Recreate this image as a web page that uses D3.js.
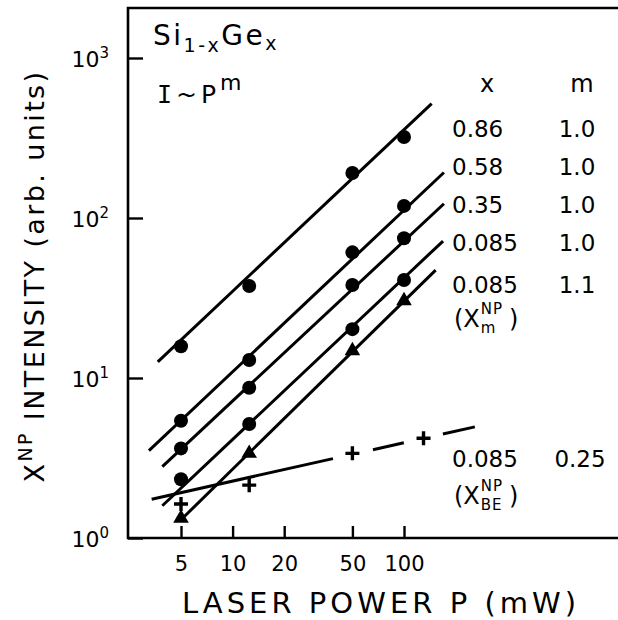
<!DOCTYPE html>
<html><head><meta charset="utf-8">
<script src="https://cdn.jsdelivr.net/npm/d3@7"></script>
<style>
body{margin:0;background:#fff}
svg{display:block}
text{font-family:"DejaVu Sans",sans-serif;fill:#000}
</style></head>
<body><svg id="c" width="618" height="620"></svg>
<script>
// ---------- data ----------
const powers = [5, 12.5, 50, 100];               // mW
const vals086  = [15.8, 37.6, 191, 321];
const vals058  = [5.41, 12.95, 61.0, 119];
const vals035  = [3.63, 8.7, 38.1, 74.7];
const vals0085 = [2.33, 5.16, 20.2, 41.0];
const valsTri  = [1.33, 3.38, 14.8, 30.4];        // x=0.085, X^NP_m
const powersBE = [5, 12.5, 50, 130];
const valsBE   = [1.63, 2.14, 3.38, 4.2];         // x=0.085, X^NP_BE

const legendX = ["0.86", "0.58", "0.35", "0.085", "0.085"];
const legendM = ["1.0", "1.0", "1.0", "1.0", "1.1"];
const legendXBE = "0.085", legendMBE = "0.25";

// fitted power-law lines: I at P=5 mW, exponent, P range drawn
const fitI5    = [17.3, 5.43, 3.59, 2.05, 1.30];
const fitSlope = [1.01, 1.01, 1.0, 1.01, 1.05];
const fitFrom  = [3.66, 3.25, 3.89, 3.89, 5.0];
const fitTo    = [145, 171, 171, 169, 153];
const beI5 = 1.92, beSlope = 0.24;
const beSegFrom = [3.37, 65.9, 168.6];
const beSegTo   = [38.5, 99.8, 259];

const xTickVals = [5, 10, 20, 50, 100];
const yTickVals = [1, 10, 100, 1000];

// ---------- layout ----------
const svg = d3.select("#c");
const L = 128, T = 8, R = 620, B = 538;
const x = d3.scaleLog().domain([5, 100]).range([181, 404]);
const y = d3.scaleLog().domain([1, 1000]).range([B, 58]);

// frame
svg.append("path").attr("d", `M${R},${T}H${L}V${B}H${R}`)
  .attr("fill", "none").attr("stroke", "#000").attr("stroke-width", 2.6);

// x axis
const gx = svg.append("g").attr("transform", `translate(0,${B})`)
  .call(d3.axisBottom(x).tickValues(xTickVals).tickSize(-12).tickPadding(18).tickFormat(d3.format("d")));
gx.select(".domain").remove();
gx.selectAll("line").attr("stroke", "#000").attr("stroke-width", 2.4);
gx.selectAll("text").attr("font-size", 21).attr("font-family", "DejaVu Sans").attr("fill", "#000");

// y axis
const gy = svg.append("g").attr("transform", `translate(${L},0)`)
  .call(d3.axisLeft(y).tickValues(yTickVals).tickSize(-15).tickPadding(19).tickFormat(() => ""));
gy.select(".domain").remove();
gy.selectAll("line").attr("stroke", "#000").attr("stroke-width", 2.4);
gy.selectAll("text").attr("font-family", "DejaVu Sans").attr("fill", "#000").attr("dy", null)
  .each(function(d) {
    const t = d3.select(this);
    t.append("tspan").attr("font-size", 22).attr("dy", 8).text("10");
    t.append("tspan").attr("font-size", 15).attr("dy", -9).text(Math.round(Math.log10(d)));
  });

// fitted lines
const line = d3.line().x(d => x(d[0])).y(d => y(d[1]));
fitI5.forEach((i5, k) => {
  const f = p => i5 * Math.pow(p / 5, fitSlope[k]);
  svg.append("path").attr("d", line([[fitFrom[k], f(fitFrom[k])], [fitTo[k], f(fitTo[k])]]))
    .attr("stroke", "#000").attr("stroke-width", 3).attr("fill", "none");
});
const fbe = p => beI5 * Math.pow(p / 5, beSlope);
beSegFrom.forEach((p0, k) => {
  svg.append("path").attr("d", line([[p0, fbe(p0)], [beSegTo[k], fbe(beSegTo[k])]]))
    .attr("stroke", "#000").attr("stroke-width", 3).attr("fill", "none");
});

// markers
[vals086, vals058, vals035, vals0085].forEach(vals => {
  svg.append("g").selectAll("circle").data(vals).join("circle")
    .attr("cx", (d, i) => x(powers[i])).attr("cy", d => y(d)).attr("r", 7).attr("fill", "#000");
});
svg.append("g").selectAll("path").data(valsTri).join("path")
  .attr("transform", (d, i) => `translate(${x(powers[i])},${y(d)})`)
  .attr("d", d3.symbol(d3.symbolTriangle, 105)).attr("fill", "#000");
svg.append("g").selectAll("path").data(valsBE).join("path")
  .attr("d", (d, i) => { const cx = x(powersBE[i]), cy = y(d); return `M${cx-7},${cy}h14M${cx},${cy-7}v14`; })
  .attr("stroke", "#000").attr("stroke-width", 3.4).attr("fill", "none");

// legend table
const colX = 452, colM = 577;
svg.append("text").attr("x", 487).attr("y", 92).attr("text-anchor", "middle").attr("font-size", 24).text("x");
svg.append("text").attr("x", 582).attr("y", 92).attr("text-anchor", "middle").attr("font-size", 24).text("m");
const rowY = [137, 175, 213, 251, 293];
legendX.forEach((v, k) => {
  svg.append("text").attr("x", colX).attr("y", rowY[k]).attr("font-size", 23).text(v);
  svg.append("text").attr("x", colM).attr("y", rowY[k]).attr("text-anchor", "middle").attr("font-size", 23).text(legendM[k]);
});
svg.append("text").attr("x", colX).attr("y", 467).attr("font-size", 23).text(legendXBE);
svg.append("text").attr("x", colM + 3).attr("y", 467).attr("text-anchor", "middle").attr("font-size", 23).text(legendMBE);

// (X^NP_sub) as one text element with stacked tspans
function labelX(x0, b, sub) {
  const probe = svg.append("text").attr("font-size", 24).text("(X");
  const w = probe.node().getComputedTextLength();
  probe.remove();
  const p2 = svg.append("text").attr("font-size", 15).attr("letter-spacing", 1);
  const ww = Math.max(p2.text("NP").node().getComputedTextLength(), p2.text(sub).node().getComputedTextLength());
  p2.remove();
  const t = svg.append("text").attr("x", x0).attr("y", b).attr("font-size", 24);
  t.append("tspan").text("(X");
  t.append("tspan").attr("x", x0 + w + 1).attr("y", b - 13).attr("font-size", 15).attr("letter-spacing", 1).text("NP");
  t.append("tspan").attr("x", x0 + w + 1).attr("y", b + 6).attr("font-size", 15).attr("letter-spacing", 1).text(sub);
  t.append("tspan").attr("x", x0 + w + ww + 7).attr("y", b).text(")");
}
labelX(454, 327, "m");
labelX(454, 504, "BE");

// composition labels
const t1 = svg.append("text").attr("x", 153).attr("y", 45).attr("font-size", 28).attr("letter-spacing", 2.5);
t1.append("tspan").text("Si");
t1.append("tspan").attr("font-size", 19).attr("dy", 7).text("1-x");
t1.append("tspan").attr("dy", -7).text("Ge");
t1.append("tspan").attr("font-size", 19).attr("dy", 5).text("x");

const t2 = svg.append("text").attr("x", 157).attr("y", 103).attr("font-size", 25).attr("letter-spacing", 4);
t2.append("tspan").attr("font-family", "DejaVu Sans Mono").text("I");
t2.append("tspan").text("~P");
t2.append("tspan").attr("font-size", 22).attr("dy", -13).text("m");

// axis titles
function fit(sel, target) {
  const n = sel.node();
  const len = n.getComputedTextLength();
  const cnt = n.textContent.length;
  sel.attr("letter-spacing", (target - len) / cnt);
}
const xt = svg.append("text").attr("x", 381).attr("y", 613).attr("text-anchor", "middle")
  .attr("font-size", 29).text("LASER POWER P (mW)");
fit(xt, 398);

const yt = svg.append("text").attr("transform", "translate(44,276) rotate(-90)")
  .attr("text-anchor", "middle").attr("font-size", 27);
yt.append("tspan").text("X");
yt.append("tspan").attr("font-size", 19).attr("dy", -12).text("NP");
yt.append("tspan").attr("dy", 12).text(" INTENSITY (arb. units)");
fit(yt, 413);
</script></body></html>
